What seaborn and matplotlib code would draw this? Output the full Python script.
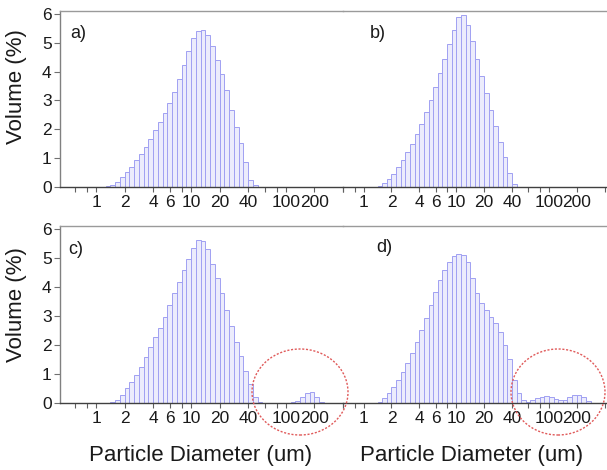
import numpy as np
import pandas as pd
import matplotlib
matplotlib.use("Agg")
import matplotlib.pyplot as plt
from matplotlib.patches import Ellipse
import seaborn as sns

# Laser-diffraction size classes (um), lower edges of each class
size_edges_um = [1.002, 1.125, 1.262, 1.416, 1.589, 1.783, 2.000, 2.244, 2.518, 2.825,
                 3.170, 3.557, 3.991, 4.477, 5.024, 5.637, 6.325, 7.096, 7.962, 8.934,
                 10.024, 11.247, 12.619, 14.159, 15.887, 17.825, 20.000, 22.440, 25.179, 28.251,
                 31.698, 35.566, 39.905, 44.774, 50.238, 56.368, 63.246, 70.963, 79.621, 89.337,
                 100.237, 112.468, 126.191, 141.589, 158.866, 178.250, 200.000, 224.404, 251.785, 282.508,
                 316.979, 355.656, 399.052]

# Volume (%) per size class
vol_a = [0, 0, 0.03, 0.08, 0.18, 0.34, 0.52, 0.70, 0.92, 1.15,
         1.40, 1.68, 1.97, 2.27, 2.57, 2.90, 3.30, 3.75, 4.22, 4.72,
         5.15, 5.42, 5.45, 5.28, 4.88, 4.40, 3.92, 3.35, 2.68, 2.08,
         1.52, 0.85, 0.25, 0.08, 0, 0, 0, 0, 0, 0,
         0, 0, 0, 0, 0, 0, 0, 0, 0, 0, 0, 0]
vol_b = [0, 0, 0, 0.03, 0.13, 0.28, 0.46, 0.68, 0.92, 1.20,
         1.50, 1.84, 2.20, 2.60, 3.02, 3.47, 3.95, 4.45, 4.95, 5.45,
         5.88, 5.97, 5.60, 5.05, 4.45, 3.85, 3.25, 2.67, 2.10, 1.57,
         1.05, 0.50, 0.10, 0, 0, 0, 0, 0, 0, 0,
         0, 0, 0, 0, 0, 0, 0, 0, 0, 0, 0, 0]
vol_c = [0, 0, 0, 0.03, 0.12, 0.28, 0.50, 0.73, 0.97, 1.25,
         1.58, 1.93, 2.28, 2.60, 2.98, 3.38, 3.78, 4.18, 4.58, 4.95,
         5.35, 5.62, 5.60, 5.30, 4.80, 4.30, 3.78, 3.20, 2.65, 2.10,
         1.62, 1.12, 0.65, 0.20, 0.03, 0.01, 0.01, 0.01, 0.01, 0.01,
         0.01, 0.02, 0.08, 0.20, 0.33, 0.38, 0.20, 0.03, 0, 0, 0, 0]
vol_d = [0, 0, 0, 0.05, 0.16, 0.33, 0.56, 0.79, 1.08, 1.37,
         1.71, 2.11, 2.52, 2.92, 3.38, 3.84, 4.24, 4.59, 4.87, 5.05,
         5.13, 5.10, 4.85, 4.30, 3.80, 3.45, 3.20, 2.98, 2.75, 2.45,
         2.00, 1.50, 0.80, 0.35, 0.10, 0.05, 0.10, 0.17, 0.22, 0.25,
         0.20, 0.14, 0.10, 0.12, 0.20, 0.26, 0.27, 0.20, 0.08, 0, 0, 0]

panel_labels = ["a)", "b)", "c)", "d)"]
xtick_values = [0.6, 0.8, 1, 2, 4, 6, 8, 10, 20, 40, 60, 80, 100, 200, 400]
xtick_labels = ["", "", "1", "2", "4", "6", "", "10", "20", "40", "", "", "100", "200", ""]
ytick_values = [0, 1, 2, 3, 4, 5, 6]
xlabel = "Particle Diameter (um)"
ylabel = "Volume (%)"

sns.set_theme(style="white")
plt.rcParams["font.family"] = ["Liberation Sans", "DejaVu Sans"]

W, H = 607, 470
fig = plt.figure(figsize=(W / 100, H / 100), dpi=100)


def frac_rect(x0, x1, ytop, ybot):
    return [x0 / W, 1 - ybot / H, (x1 - x0) / W, (ybot - ytop) / H]


layout = [
    (frac_rect(60, 343, 11, 187), (0.416, 343.6), 6.1, True),
    (frac_rect(343, 607, 11, 187), (0.66, 424), 6.1, False),
    (frac_rect(60, 343, 226, 403), (0.416, 343.6), 6.1, True),
    (frac_rect(343, 607, 226, 403), (0.66, 424), 6.1, False),
]
series = [vol_a, vol_b, vol_c, vol_d]
edges = np.array(size_edges_um)
centers = np.sqrt(edges[:-1] * edges[1:])

label_pos = [(70, 33), (370, 33), (68, 249), (376, 248)]

axes = []
for i, (rect, xlim, ytop, show_y) in enumerate(layout):
    ax = fig.add_axes(rect)
    vals = np.array(series[i])
    nz = np.nonzero(vals)[0]
    lo, hi = int(nz.min()), int(nz.max()) + 1
    df = pd.DataFrame({"size": centers[lo:hi], "vol": vals[lo:hi]})
    sns.histplot(data=df, x="size", weights="vol", bins=hi - lo,
                 binrange=(float(np.log10(edges[lo])), float(np.log10(edges[hi]))),
                 log_scale=True, element="bars", fill=True, stat="count",
                 color="#ececfc", edgecolor="#a0a0f2", linewidth=0.7, alpha=1.0,
                 ax=ax)
    ax.set_xscale("log")
    ax.set_xlim(*xlim)
    ax.set_ylim(0, ytop)
    ax.xaxis.set_minor_locator(matplotlib.ticker.NullLocator())
    ax.set_xticks(xtick_values)
    ax.set_xticklabels(xtick_labels)
    ax.set_xlabel("")
    ax.set_ylabel("")
    ax.tick_params(axis="x", which="major", direction="out", length=3.5, width=0.8,
                   color="#606060", labelsize=12.5, pad=2, labelcolor="#1a1a1a", bottom=True)
    ax.set_yticks(ytick_values)
    if show_y:
        ax.tick_params(axis="y", direction="out", length=4, width=0.8, color="#707070",
                       labelsize=12.5, pad=2, labelcolor="#1a1a1a", left=True)
    else:
        ax.tick_params(axis="y", left=False, labelleft=False)
    ax.spines["right"].set_visible(False)
    ax.spines["top"].set_color("#9a9a9a")
    ax.spines["top"].set_linewidth(1.0)
    ax.spines["bottom"].set_color("#404040")
    ax.spines["bottom"].set_linewidth(1.0)
    if show_y:
        ax.spines["left"].set_color("#808080")
        ax.spines["left"].set_linewidth(1.0)
    else:
        ax.spines["left"].set_visible(False)
    ax.patch.set_alpha(0)
    lx, ly = label_pos[i]
    fig.text(lx / W, 1 - ly / H, panel_labels[i], fontsize=13, ha="left", va="center", color="#1a1a1a")
    axes.append(ax)

# axis titles
fig.text(17 / W, 1 - 87 / H, ylabel, rotation=90, fontsize=16, ha="center", va="center", color="#1a1a1a")
fig.text(17 / W, 1 - 305 / H, ylabel, rotation=90, fontsize=16, ha="center", va="center", color="#1a1a1a")
fig.text(201 / W, 1 - 455 / H, xlabel, fontsize=16, ha="center", va="center", color="#1a1a1a")
fig.text(472 / W, 1 - 455 / H, xlabel, fontsize=16, ha="center", va="center", color="#1a1a1a")

# red dotted circles highlighting coarse fractions
for cx, cy, ew, eh in [(300, 392, 96, 86), (558, 392, 94, 86)]:
    e = Ellipse((cx / W, 1 - cy / H), ew / W, eh / H, transform=fig.transFigure,
                fill=False, edgecolor="#e05a5a", linewidth=1.0, linestyle=(0, (1.5, 1.2)), zorder=10)
    fig.add_artist(e)

fig.savefig("out.png", dpi=100)
